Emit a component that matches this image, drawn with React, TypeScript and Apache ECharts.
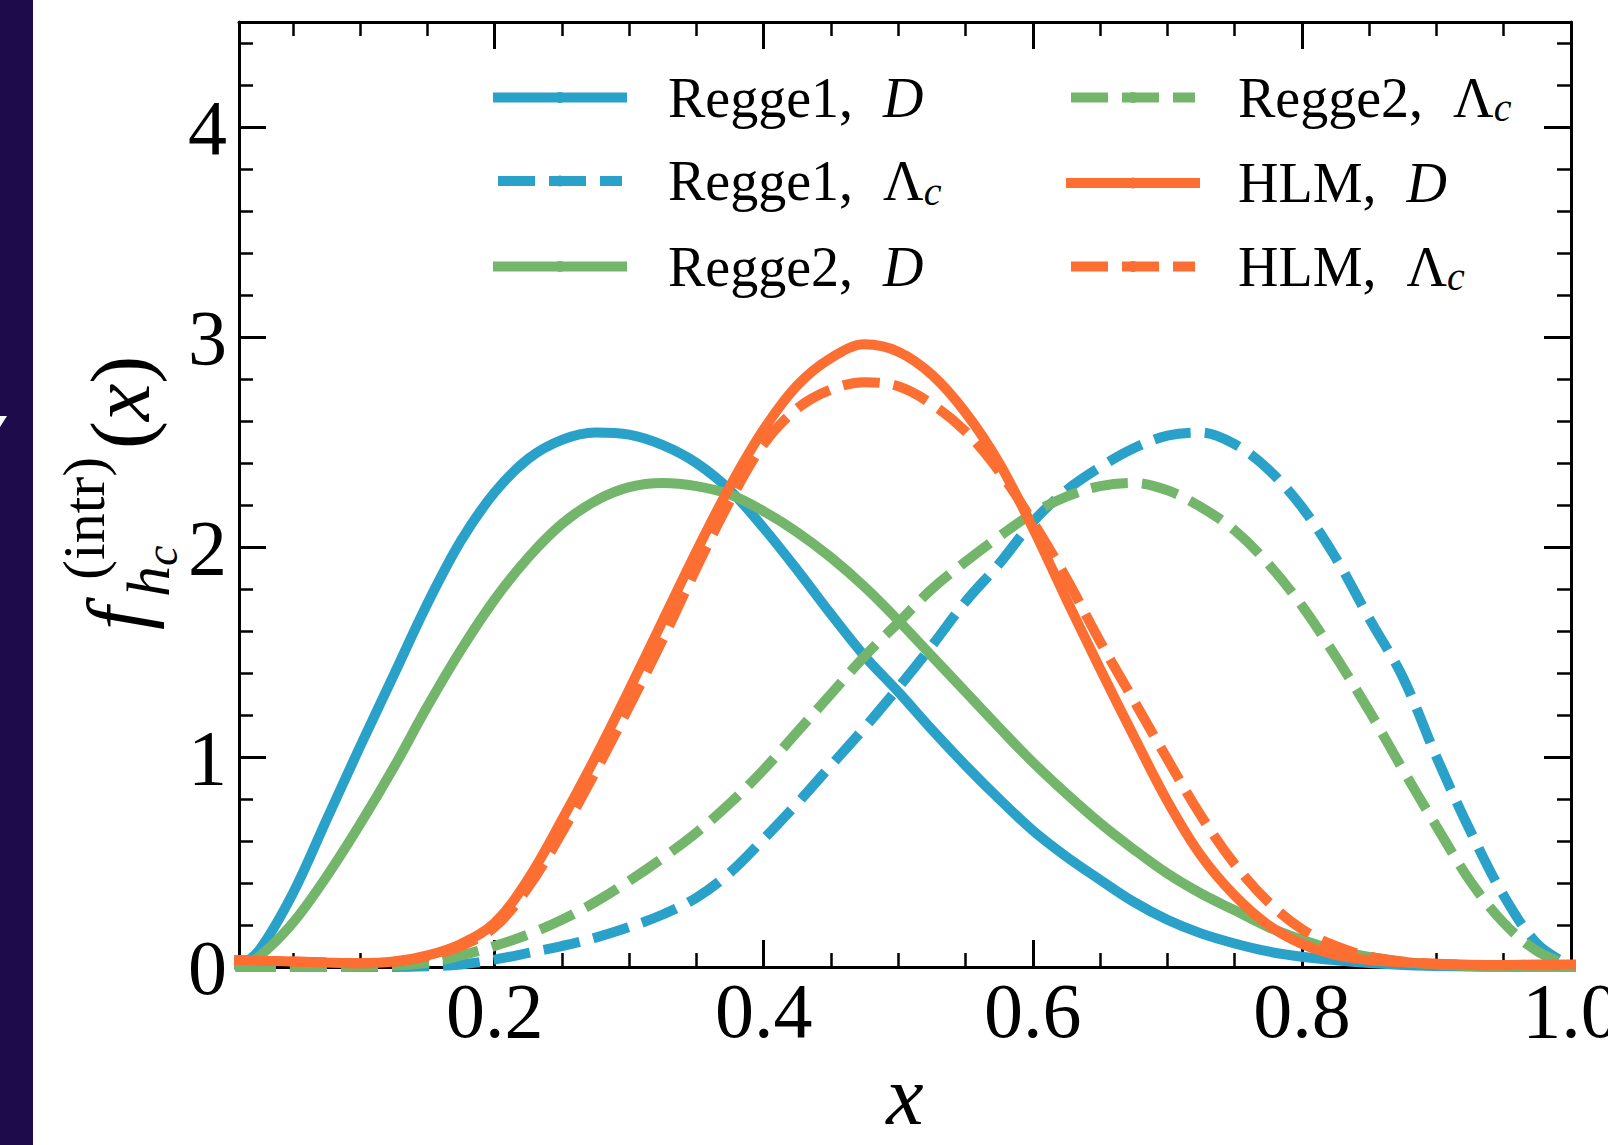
import React, { useEffect, useRef } from 'react';
import * as echarts from 'echarts';

// ---------- data ----------
const X_VALUES = [
  0.01, 0.025, 0.05, 0.075, 0.1, 0.125, 0.15, 0.175, 0.2, 0.225, 0.25, 0.275, 0.3, 0.325,
  0.35, 0.375, 0.4, 0.425, 0.45, 0.475, 0.5, 0.525, 0.55, 0.575, 0.6, 0.625, 0.65, 0.675,
  0.7, 0.725, 0.75, 0.775, 0.8, 0.825, 0.85, 0.875, 0.9, 0.925, 0.95, 0.975, 1.0,
];

const REGGE1_D = [
  0, 0.08, 0.35, 0.7, 1.05, 1.39, 1.73, 2.03, 2.26, 2.42, 2.51, 2.545, 2.535, 2.485,
  2.4, 2.27, 2.09, 1.89, 1.68, 1.48, 1.31, 1.13, 0.96, 0.8, 0.65, 0.525, 0.415, 0.31,
  0.225, 0.16, 0.112, 0.074, 0.049, 0.032, 0.019, 0.01, 0.005, 0.002, 0.001, 0, 0,
];

const REGGE1_L = [
  0, 0, 0, 0, 0, 0, 0.003, 0.012, 0.035, 0.067, 0.1, 0.14, 0.19, 0.25,
  0.33, 0.45, 0.61, 0.78, 0.96, 1.14, 1.33, 1.53, 1.74, 1.92, 2.12, 2.27, 2.38, 2.47,
  2.53, 2.545, 2.49, 2.37, 2.19, 1.95, 1.66, 1.38, 1.0, 0.65, 0.34, 0.11, 0.005,
];

const REGGE2_D = [
  0, 0.05, 0.21, 0.43, 0.68, 0.95, 1.24, 1.51, 1.75, 1.95, 2.11, 2.22, 2.285, 2.305,
  2.29, 2.25, 2.17, 2.07, 1.95, 1.81, 1.65, 1.48, 1.31, 1.14, 0.975, 0.825, 0.685, 0.56,
  0.445, 0.35, 0.27, 0.19, 0.13, 0.08, 0.048, 0.025, 0.012, 0.005, 0.002, 0, 0,
];

const REGGE2_L = [
  0, 0, 0, 0, 0.001, 0.006, 0.02, 0.055, 0.1, 0.155, 0.225, 0.31, 0.41, 0.52,
  0.64, 0.78, 0.94, 1.12, 1.3, 1.48, 1.64, 1.8, 1.93, 2.05, 2.16, 2.24, 2.29, 2.305,
  2.27, 2.19, 2.08, 1.92, 1.72, 1.48, 1.22, 0.94, 0.67, 0.41, 0.21, 0.075, 0.005,
];

const HLM_D = [
  0.033, 0.03, 0.026, 0.021, 0.018, 0.026, 0.055, 0.11, 0.21, 0.42, 0.7, 1.0, 1.32, 1.65,
  1.98, 2.29, 2.56, 2.77, 2.9, 2.965, 2.93, 2.82, 2.64, 2.4, 2.09, 1.75, 1.42, 1.1,
  0.79, 0.53, 0.34, 0.2, 0.11, 0.058, 0.033, 0.022, 0.015, 0.011, 0.01, 0.012, 0.012,
];

const HLM_L = [
  0.033, 0.03, 0.026, 0.021, 0.018, 0.025, 0.05, 0.1, 0.19, 0.38, 0.64, 0.93, 1.24, 1.56,
  1.9, 2.22, 2.49, 2.66, 2.75, 2.785, 2.765, 2.68, 2.55, 2.36, 2.12, 1.85, 1.55, 1.27,
  0.99, 0.72, 0.49, 0.31, 0.18, 0.1, 0.05, 0.026, 0.015, 0.01, 0.008, 0.008, 0.01,
];

const SERIES_NAMES = ['Regge1, D', 'Regge1, Λc', 'Regge2, D', 'Regge2, Λc', 'HLM, D', 'HLM, Λc'];
const LEGEND_COL1 = ['Regge1, D', 'Regge1, Λc', 'Regge2, D'];
const LEGEND_COL2 = ['Regge2, Λc', 'HLM, D', 'HLM, Λc'];

const X_MAJOR = [0.2, 0.4, 0.6, 0.8, 1.0];
const X_MINOR = [0.05, 0.1, 0.15, 0.25, 0.3, 0.35, 0.45, 0.5, 0.55, 0.65, 0.7, 0.75, 0.85, 0.9, 0.95];
const Y_MAJOR = [0, 1, 2, 3, 4];
const Y_MINOR = [
  0.2, 0.4, 0.6, 0.8, 1.2, 1.4, 1.6, 1.8, 2.2, 2.4, 2.6, 2.8, 3.2, 3.4, 3.6, 3.8, 4.2, 4.4,
];

// ---------- styling ----------
const FONT = 'Liberation Serif';
const BLUE = '#2aa1c9';
const GREEN = '#73b66b';
const ORANGE = '#fc6e31';
const DASH = [37, 14];

const GRID = { left: 239, top: 22, width: 1332, height: 945 };

function legendLabel(name: string): string {
  const [model, kind] = name.split(', ');
  if (kind === 'D') return `{r|${model},}{d|D}`;
  return `{r|${model},}{L|Λ}{s|c}`;
}

function makeRich(leadPad: number) {
  return {
    r: { fontFamily: FONT, fontSize: 56, color: '#000', lineHeight: 60, padding: [0, 0, 0, leadPad] },
    d: { fontFamily: FONT, fontSize: 56, fontStyle: 'italic', color: '#000', lineHeight: 60, padding: [0, 0, 0, 30] },
    L: { fontFamily: FONT, fontSize: 56, color: '#000', lineHeight: 60, padding: [0, 0, 0, 30] },
    s: { fontFamily: FONT, fontSize: 40, fontStyle: 'italic', color: '#000', lineHeight: 32, verticalAlign: 'bottom' },
  };
}

function makeSeries(name: string, ys: number[], color: string, dashed: boolean) {
  return {
    name,
    type: 'line',
    xAxisIndex: 0,
    yAxisIndex: 0,
    data: X_VALUES.map((x, i) => [x, ys[i]]),
    symbol: 'none',
    showSymbol: false,
    smooth: 0.35,
    clip: true,
    silent: true,
    lineStyle: { color, width: 10, type: dashed ? DASH : 'solid', cap: dashed ? 'butt' : 'square' },
    itemStyle: { color },
    emphasis: { disabled: true },
  };
}

function tickAxis(
  dim: 'x' | 'y',
  gridIndex: number,
  position: string,
  values: number[],
  length: number,
  width: number,
  showLine: boolean,
) {
  const base: any = {
    gridIndex,
    type: 'value',
    position,
    min: dim === 'x' ? 0.01 : 0,
    max: dim === 'x' ? 1.0 : 4.5,
    axisLine: { show: showLine, onZero: false, lineStyle: { color: '#000', width: 3 } },
    axisTick: {
      show: true,
      inside: true,
      length,
      customValues: values,
      lineStyle: { color: '#000', width },
    },
    axisLabel: { show: false },
    splitLine: { show: false },
    minorTick: { show: false },
  };
  return base;
}

export default function App() {
  const ref = useRef<HTMLDivElement>(null);

  useEffect(() => {
    if (!ref.current) return;
    const chart = echarts.init(ref.current, null, { renderer: 'svg' });

    const xMain = tickAxis('x', 0, 'bottom', X_MAJOR, 27, 3, true);
    xMain.axisLabel = {
      show: true,
      customValues: X_MAJOR,
      formatter: (v: number) => v.toFixed(1),
      fontFamily: FONT,
      fontSize: 78,
      color: '#000',
      margin: 4,
    };
    xMain.name = 'x';
    xMain.nameLocation = 'middle';
    xMain.nameGap = 84;
    xMain.nameTextStyle = { fontFamily: FONT, fontSize: 84, fontStyle: 'italic', color: '#000' };

    const yMain = tickAxis('y', 0, 'left', Y_MAJOR, 27, 3, true);
    yMain.axisLabel = {
      show: true,
      customValues: Y_MAJOR,
      formatter: (v: number) => String(v),
      fontFamily: FONT,
      fontSize: 78,
      color: '#000',
      margin: 12,
    };

    const legendCommon = {
      orient: 'vertical',
      top: 69.5,
      padding: 0,
      itemGap: 27.5,
      itemWidth: 124,
      itemHeight: 14,
      selectedMode: false,
      formatter: legendLabel,
      lineStyle: { width: 10 },
    };

    const option: any = {
      animation: false,
      backgroundColor: '#ffffff',
      textStyle: { fontFamily: FONT },
      grid: [
        { ...GRID, outerBoundsMode: 'none', containLabel: false },
        { ...GRID, outerBoundsMode: 'none', containLabel: false },
      ],
      xAxis: [
        xMain,
        tickAxis('x', 0, 'top', X_MAJOR, 27, 3, true),
        tickAxis('x', 1, 'bottom', X_MINOR, 14, 2.5, false),
        tickAxis('x', 1, 'top', X_MINOR, 14, 2.5, false),
      ],
      yAxis: [
        yMain,
        tickAxis('y', 0, 'right', Y_MAJOR, 27, 3, true),
        tickAxis('y', 1, 'left', Y_MINOR, 14, 2.5, false),
        tickAxis('y', 1, 'right', Y_MINOR, 14, 2.5, false),
      ],
      legend: [
        {
          ...legendCommon,
          left: 493,
          data: LEGEND_COL1,
          textStyle: { fontFamily: FONT, fontSize: 56, color: '#000', rich: makeRich(41) },
        },
        {
          ...legendCommon,
          left: 1066,
          data: LEGEND_COL2,
          textStyle: { fontFamily: FONT, fontSize: 56, color: '#000', rich: makeRich(38) },
        },
      ],
      series: [
        makeSeries(SERIES_NAMES[0], REGGE1_D, BLUE, false),
        makeSeries(SERIES_NAMES[1], REGGE1_L, BLUE, true),
        makeSeries(SERIES_NAMES[2], REGGE2_D, GREEN, false),
        makeSeries(SERIES_NAMES[3], REGGE2_L, GREEN, true),
        makeSeries(SERIES_NAMES[4], HLM_D, ORANGE, false),
        makeSeries(SERIES_NAMES[5], HLM_L, ORANGE, true),
      ],
      graphic: [
        {
          type: 'rect',
          shape: { x: 0, y: 0, width: 33, height: 1145 },
          style: { fill: '#1e0b4b' },
          silent: true,
        },
        {
          type: 'polygon',
          shape: { points: [[0, 416], [7, 416], [0, 427]] },
          style: { fill: '#ffffff' },
          silent: true,
        },
        {
          type: 'group',
          x: 145,
          y: 630,
          rotation: Math.PI / 2,
          silent: true,
          children: [
            {
              type: 'text',
              x: 0,
              y: -28,
              style: { text: 'f', fontFamily: FONT, fontSize: 84, fontStyle: 'italic', fill: '#000', align: 'left', verticalAlign: 'middle' },
            },
            {
              type: 'text',
              x: 50,
              y: -61,
              style: { text: '(intr)', fontFamily: FONT, fontSize: 60, fill: '#000', align: 'left', verticalAlign: 'middle' },
            },
            {
              type: 'text',
              x: 33,
              y: 3,
              style: { text: 'h', fontFamily: FONT, fontSize: 62, fontStyle: 'italic', fill: '#000', align: 'left', verticalAlign: 'middle' },
            },
            {
              type: 'text',
              x: 64,
              y: 16,
              style: { text: 'c', fontFamily: FONT, fontSize: 46, fontStyle: 'italic', fill: '#000', align: 'left', verticalAlign: 'middle' },
            },
            {
              type: 'text',
              x: 181,
              y: -25,
              style: {
                text: '{p|(}{i|x}{p|)}',
                align: 'left',
                verticalAlign: 'middle',
                rich: {
                  p: { fontFamily: FONT, fontSize: 84, color: '#000' },
                  i: { fontFamily: FONT, fontSize: 84, fontStyle: 'italic', color: '#000' },
                },
              },
            },
          ],
        },
      ],
    };

    chart.setOption(option);
    return () => {
      chart.dispose();
    };
  }, []);

  return (
    <div
      ref={ref}
      style={{ position: 'fixed', left: 0, top: 0, width: 1608, height: 1145, background: '#fff' }}
    />
  );
}
